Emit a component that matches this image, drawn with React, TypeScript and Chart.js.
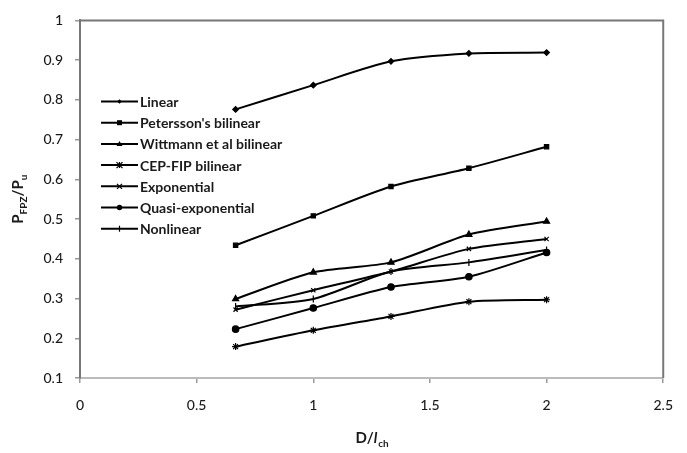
import React, { useEffect, useRef } from "react";
import { Chart, registerables } from "chart.js";

Chart.register(...registerables);

const xValues = [0.667, 1, 1.333, 1.667, 2];
const seriesNames = [
  "Linear",
  "Petersson's bilinear",
  "Wittmann et al bilinear",
  "CEP-FIP bilinear",
  "Exponential",
  "Quasi-exponential",
  "Nonlinear",
];
const linear = [0.776, 0.837, 0.897, 0.917, 0.919];
const petersson = [0.434, 0.508, 0.582, 0.628, 0.682];
const wittmann = [0.299, 0.366, 0.391, 0.461, 0.494];
const cepFip = [0.179, 0.22, 0.255, 0.292, 0.297];
const exponential = [0.272, 0.321, 0.368, 0.425, 0.45];
const quasiExp = [0.223, 0.276, 0.329, 0.355, 0.416];
const nonlinear = [0.28, 0.299, 0.368, 0.391, 0.422];
const seriesValues = [linear, petersson, wittmann, cepFip, exponential, quasiExp, nonlinear];
const markerStyles = ["rectRot", "rect", "triangle", "star", "crossRot", "circle", "line"];
const markerRadius = [2.8, 3, 3.5, 3.5, 3, 3.2, 3.5];
const markerRotation = [0, 0, 0, 0, 0, 0, 90];

const FONT = "Lato, 'Open Sans', sans-serif";

function drawMarker(ctx: CanvasRenderingContext2D, style: string, x: number, y: number, r: number) {
  ctx.save();
  ctx.fillStyle = "#000";
  ctx.strokeStyle = "#000";
  ctx.lineWidth = 1.2;
  ctx.beginPath();
  if (style === "rectRot") {
    ctx.moveTo(x, y - r); ctx.lineTo(x + r, y); ctx.lineTo(x, y + r); ctx.lineTo(x - r, y); ctx.closePath(); ctx.fill();
  } else if (style === "rect") {
    ctx.rect(x - r, y - r, 2 * r, 2 * r); ctx.fill();
  } else if (style === "triangle") {
    ctx.moveTo(x, y - r); ctx.lineTo(x + r, y + r * 0.7); ctx.lineTo(x - r, y + r * 0.7); ctx.closePath(); ctx.fill();
  } else if (style === "star") {
    ctx.moveTo(x - r, y - r); ctx.lineTo(x + r, y + r); ctx.moveTo(x + r, y - r); ctx.lineTo(x - r, y + r);
    ctx.moveTo(x, y - r); ctx.lineTo(x, y + r); ctx.stroke();
  } else if (style === "crossRot") {
    ctx.moveTo(x - r, y - r); ctx.lineTo(x + r, y + r); ctx.moveTo(x + r, y - r); ctx.lineTo(x - r, y + r); ctx.stroke();
  } else if (style === "circle") {
    ctx.arc(x, y, r, 0, Math.PI * 2); ctx.fill();
  } else if (style === "line") {
    ctx.moveTo(x, y - r); ctx.lineTo(x, y + r); ctx.stroke();
  }
  ctx.restore();
}

const decorPlugin = {
  id: "decor",
  afterDraw(chart: any) {
    const ctx: CanvasRenderingContext2D = chart.ctx;
    const a = chart.chartArea;
    ctx.save();
    // frame top and right
    ctx.strokeStyle = "#777";
    ctx.lineWidth = 2;
    ctx.beginPath();
    ctx.moveTo(a.left, a.top);
    ctx.lineTo(a.right, a.top);
    ctx.lineTo(a.right, a.bottom);
    ctx.stroke();

    // legend
    const lx0 = 101, lx1 = 138, tx = 140, y0 = 101.5, dy = 21.2;
    ctx.font = `bold 14px ${FONT}`;
    ctx.textBaseline = "middle";
    ctx.textAlign = "left";
    ctx.fillStyle = "#1a1a1a";
    seriesNames.forEach((name, i) => {
      const y = y0 + i * dy;
      ctx.strokeStyle = "#000";
      ctx.lineWidth = 2;
      ctx.beginPath();
      ctx.moveTo(lx0, y);
      ctx.lineTo(lx1, y);
      ctx.stroke();
      drawMarker(ctx, markerStyles[i], (lx0 + lx1) / 2, y, markerRadius[i] - 0.5);
      ctx.fillText(name, tx, y + 1);
    });

    // x title: D/l_ch
    ctx.fillStyle = "#1a1a1a";
    ctx.textBaseline = "alphabetic";
    const cx = (a.left + a.right) / 2;
    const by = 443;
    ctx.font = `bold 15px ${FONT}`;
    const wD = ctx.measureText("D/").width;
    ctx.font = `italic bold 15px ${FONT}`;
    const wl = ctx.measureText("l").width;
    ctx.font = `bold 10px ${FONT}`;
    const wch = ctx.measureText("ch").width;
    let x = cx - (wD + wl + wch) / 2;
    ctx.font = `bold 15px ${FONT}`;
    ctx.fillText("D/", x, by);
    x += wD;
    ctx.font = `italic bold 15px ${FONT}`;
    ctx.fillText("l", x, by);
    x += wl + 1;
    ctx.font = `bold 10px ${FONT}`;
    ctx.fillText("ch", x, by + 4);

    // y title: P_FPZ/P_u
    ctx.save();
    ctx.translate(23, (a.top + a.bottom) / 2);
    ctx.rotate(-Math.PI / 2);
    const parts = [
      { t: "P", f: `bold 15px ${FONT}`, dy: 0 },
      { t: "FPZ", f: `bold 10px ${FONT}`, dy: 4 },
      { t: "/P", f: `bold 15px ${FONT}`, dy: 0 },
      { t: "u", f: `bold 10px ${FONT}`, dy: 4 },
    ];
    let total = 0;
    parts.forEach((p) => { ctx.font = p.f; total += ctx.measureText(p.t).width; });
    let px = -total / 2;
    parts.forEach((p) => {
      ctx.font = p.f;
      ctx.fillText(p.t, px, p.dy);
      px += ctx.measureText(p.t).width;
    });
    ctx.restore();
    ctx.restore();
  },
};

export default function App() {
  const ref = useRef<HTMLCanvasElement | null>(null);
  useEffect(() => {
    document.body.style.margin = "0";
    const canvas = ref.current;
    if (!canvas) return;
    const datasets = seriesNames.map((name, i) => ({
      label: name,
      data: xValues.map((xv, j) => ({ x: xv, y: seriesValues[i][j] })),
      borderColor: "#000",
      backgroundColor: "#000",
      borderWidth: 2,
      pointStyle: markerStyles[i] as any,
      pointRadius: markerRadius[i],
      pointRotation: markerRotation[i],
      pointBorderColor: "#000",
      pointBackgroundColor: "#000",
      pointBorderWidth: 1.2,
      tension: 0.25,
      fill: false,
    }));
    const tickFont = { family: FONT, size: 14, weight: "500" as any };
    const chart = new Chart(canvas, {
      type: "line",
      data: { datasets },
      options: {
        animation: false,
        responsive: false,
        layout: { padding: { top: 13, right: 12, left: 0, bottom: 0 } },
        plugins: { legend: { display: false }, tooltip: { enabled: false } },
        scales: {
          x: {
            type: "linear",
            min: 0,
            max: 2.5,
            ticks: {
              stepSize: 0.5,
              color: "#1a1a1a",
              font: tickFont,
              padding: 14,
              maxRotation: 0,
              callback: (v: any) => String(Math.round(Number(v) * 10) / 10),
            },
            grid: { drawOnChartArea: false, drawTicks: true, tickLength: 5, color: "#999", lineWidth: 1.5 },
            border: { display: true, color: "#bbb", width: 2 },
            afterFit: (s: any) => { s.height = 75; },
          },
          y: {
            type: "linear",
            min: 0.1,
            max: 1,
            ticks: {
              stepSize: 0.1,
              color: "#1a1a1a",
              font: tickFont,
              padding: 12,
              callback: (v: any) => String(Math.round(Number(v) * 10) / 10),
            },
            grid: { drawOnChartArea: false, drawTicks: true, tickLength: 5, color: "#999", lineWidth: 1.5 },
            border: { display: true, color: "#777", width: 2 },
            afterFit: (s: any) => { s.width = 80; },
          },
        },
      },
      plugins: [decorPlugin],
    });
    return () => chart.destroy();
  }, []);
  return (
    <div style={{ width: 687, height: 453, background: "#fff" }}>
      <canvas ref={ref} width={687} height={453} />
    </div>
  );
}
